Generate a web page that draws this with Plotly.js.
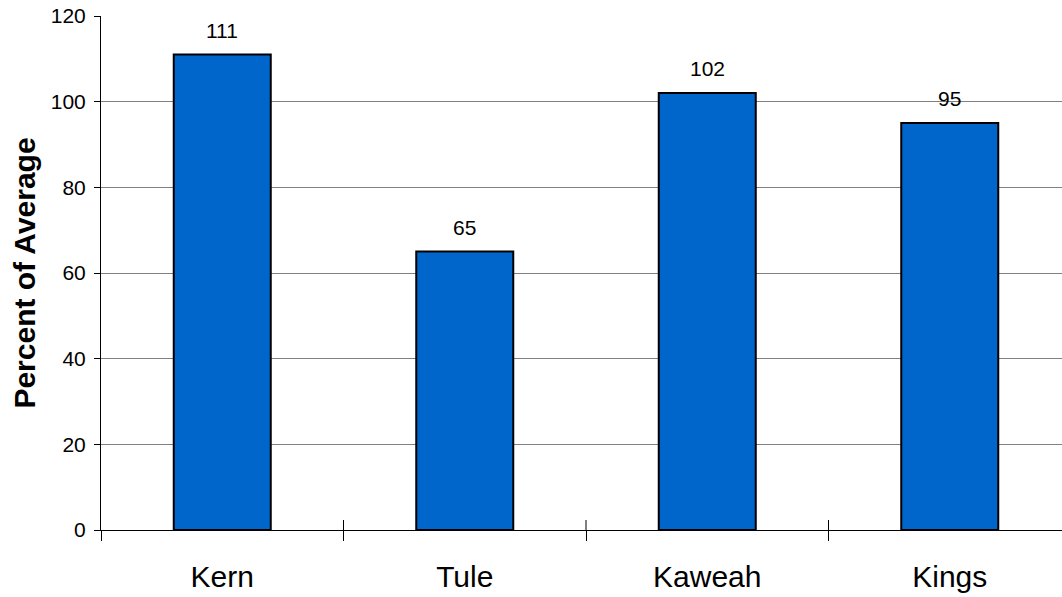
<!DOCTYPE html>
<html>
<head>
<meta charset="utf-8">
<script src="https://cdn.plot.ly/plotly-3.0.1.min.js"></script>
<style>
  html, body { margin: 0; padding: 0; overflow: hidden; background: #fff; }
  #chart { width: 1071px; height: 597px; }
</style>
</head>
<body>
<div id="chart"></div>
<script>
// Rivers and their percent-of-average values
const rivers = ["Kern", "Tule", "Kaweah", "Kings"];
const percentOfAverage = [111, 65, 102, 95];
const yTickValues = [0, 20, 40, 60, 80, 100, 120];

const FONT = "Liberation Sans, Arial, sans-serif";

const barTrace = {
  type: "bar",
  x: rivers,
  y: percentOfAverage,
  width: 0.4,
  marker: { color: "#0066CC", line: { color: "#000000", width: 2 } },
  hoverinfo: "x+y"
};

// Value labels above each bar
const valueLabels = rivers.map((r, i) => ({
  x: r,
  y: percentOfAverage[i],
  xref: "x",
  yref: "y",
  text: String(percentOfAverage[i]),
  showarrow: false,
  yanchor: "bottom",
  yshift: 11,
  font: { family: FONT, size: 21, color: "#000" }
}));

// Category separator ticks also reach up above the axis line
const separatorTicks = rivers.slice(1).map((_, i) => ({
  type: "line",
  xref: "x",
  yref: "y",
  x0: i + 0.5,
  x1: i + 0.5,
  ysizemode: "pixel",
  yanchor: 0,
  y0: 0,
  y1: 10,
  line: { color: "#000", width: 1 }
}));

const layout = {
  width: 1071,
  height: 597,
  margin: { l: 101, r: 0, t: 16, b: 67, pad: 0 },
  paper_bgcolor: "#ffffff",
  plot_bgcolor: "#ffffff",
  showlegend: false,
  font: { family: FONT, color: "#000" },
  xaxis: {
    type: "category",
    range: [-0.5, 3.5],
    showline: true,
    linecolor: "#000",
    linewidth: 1,
    ticks: "outside",
    tickson: "boundaries",
    ticklen: 10,
    tickcolor: "#000",
    tickwidth: 1,
    showgrid: false,
    zeroline: false,
    ticklabelstandoff: 20,
    tickfont: { size: 30, color: "#000" }
  },
  yaxis: {
    range: [0, 120],
    tickvals: yTickValues,
    showline: true,
    linecolor: "#000",
    linewidth: 1,
    ticks: "outside",
    ticklen: 6,
    tickcolor: "#000",
    showgrid: true,
    gridcolor: "#808080",
    gridwidth: 1,
    zeroline: false,
    ticklabelstandoff: 4,
    tickfont: { size: 21, color: "#000" },
    title: {
      text: "<b>Percent of Average</b>",
      font: { size: 30, color: "#000" },
      standoff: 6
    }
  },
  shapes: separatorTicks,
  annotations: valueLabels
};

Plotly.newPlot("chart", [barTrace], layout, { staticPlot: true, displayModeBar: false });
</script>
</body>
</html>
